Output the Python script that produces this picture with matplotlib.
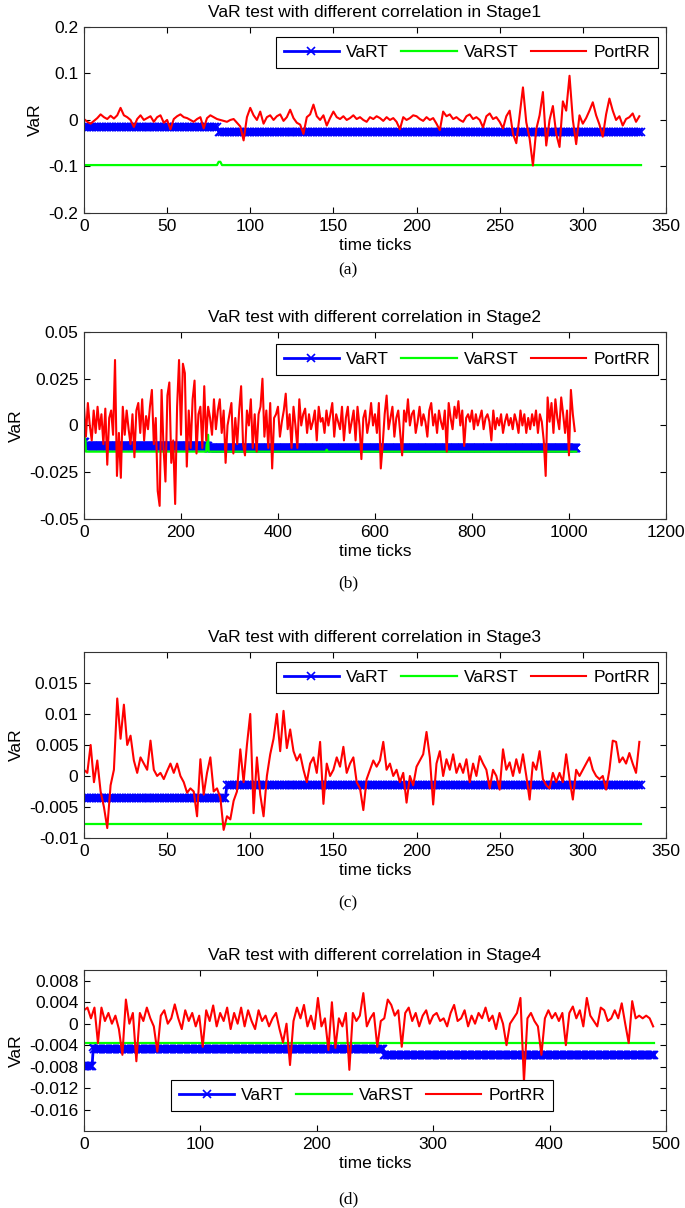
import numpy as np
import matplotlib
matplotlib.use('Agg')
import matplotlib.pyplot as plt

plt.rcParams['font.family'] = ['Liberation Sans', 'DejaVu Sans']
plt.rcParams['axes.unicode_minus'] = False

# ---------------- data ----------------
# Stage 1
n_1 = 336
vart_1_starts = [0, 81]
vart_1_levels = [-0.016, -0.025]
varst_1_starts = [0, 81, 83]
varst_1_levels = [-0.097, -0.090, -0.097]
portrr_1_step = 2
portrr_1 = [2, -4, -8, -2, 4, 12, 6, 2, 9, 3,
            10, 26, 10, 6, 0, -15, 2, 10, 0, 4,
            8, -4, 6, 10, -6, 0, -20, 2, 8, 12,
            6, 4, 0, -4, 2, 6, -18, 4, 10, 6,
            2, 0, -2, -4, 0, 2, -6, -14, -44, 6,
            26, 10, 0, 18, -8, 6, 10, 0, 8, 12,
            -2, 6, 22, 4, -6, -10, -30, 6, 12, 33,
            8, 0, 10, -12, 4, 18, 6, 2, 8, 0,
            4, 10, 2, 6, 0, -4, 6, 2, 8, 4,
            -2, 6, 0, 4, -4, -20, 6, 0, 4, 10,
            8, 2, -2, 6, 0, 4, -8, -22, 18, 8,
            12, 2, 6, 0, -4, 8, 12, 2, 6, 0,
            -16, 8, 14, 2, 6, -4, -18, 8, 20, -30,
            -50, 10, 70, -5, -40, -98, -20, 10, 60, -55,
            0, 30, -30, -58, 40, 20, 95, 0, -52, 10,
            -8, 4, 20, 38, 10, -10, -36, 12, 46, 20,
            0, 8, -12, 2, 6, 14, -4, 8]  # x 0.001

# Stage 2
n_2 = 1016
vart_2_starts = [0, 3, 256]
vart_2_levels = [-0.009, -0.011, -0.012]
varst_2_starts = [0, 2, 4, 253, 255, 257, 500, 502]
varst_2_levels = [-0.002, -0.008, -0.014, -0.010, -0.005, -0.014, -0.013, -0.014]
portrr_2_step = 4
portrr_2 = [10, -6, 12, 0, -8, 8, -4, 10, -2, 6,
            -10, 9, -21, 4, 8, -5, 35, -27, -4, -28,
            10, -5, 8, -2, -10, 6, -17, 8, 12, -4,
            14, -8, 5, -2, 10, 19, -10, 4, -35, -43,
            19, -12, -30, 16, 23, -20, -8, -42, 10, 35,
            -5, 33, 28, -22, 8, -12, 14, 24, -15, 6,
            10, -12, 21, -8, 10, 4, -5, 14, -2, 8,
            14, -4, 8, -20, 0, 6, 12, -15, 4, -10,
            8, 21, -10, -16, 8, 0, 14, -12, 6, -14,
            6, 10, 25, -6, 8, -12, 12, -23, 4, 6,
            10, -6, 2, 8, 17, -2, 6, -12, 10, 0,
            -12, 14, 0, 6, 9, -4, 6, -2, 2, 8,
            -8, 10, 2, 4, -4, 8, 0, 6, 12, -6,
            6, 2, -2, 10, -8, 4, 10, -4, 2, 8,
            -8, 10, 0, -18, 4, 8, -4, 2, 12, 0,
            6, -4, 12, -23, -10, 6, 16, -2, 4, 10,
            -6, 4, 8, -4, -16, 8, 2, 14, 0, 6,
            8, -4, 2, 10, 0, 6, 2, -6, 8, 12,
            0, 6, -4, 8, 2, -2, 8, -14, 12, 4,
            -2, 10, 4, 13, 0, 8, -11, 4, 6, 2,
            8, -2, 6, 0, 4, 8, -2, 4, 6, 2,
            -8, 8, -2, 4, 0, 6, -4, 2, 6, 0,
            4, -2, 6, 2, -4, 8, 0, 6, -4, 4,
            -2, 6, 0, 8, -4, 6, 2, -8, -27, 15,
            2, 12, -4, 14, 4, -2, 15, 6, -4, 8,
            -16, 19, 6, -3]  # x 0.001

# Stage 3
n_3 = 336
vart_3_starts = [0, 86]
vart_3_levels = [-0.0035, -0.0015]
varst_3_starts = [0]
varst_3_levels = [-0.0078]
portrr_3_step = 2
portrr_3 = [1.0, 0.5, 5.0, -1.0, 2.5, -2.5, -5.0, -8.4, -1.5, 1.0,
            12.5, 6.0, 11.5, 5.0, 6.5, 2.5, 0.5, 3.0, 2.0, 1.0,
            5.7, 1.0, 0.0, 0.5, -0.5, 0.8, 2.0, 0.5, 2.0, 0.0,
            -1.0, -2.7, -2.0, -2.5, -6.5, 2.7, -3.0, 0.5, 3.0, -2.5,
            -2.0, -3.5, -8.7, -6.5, -7.0, -4.0, -2.5, 4.3, -1.0, 5.0,
            10.0, -6.0, 3.0, -3.0, -6.5, 0.0, 3.5, 6.0, 10.0, 4.0,
            10.5, 4.5, 7.5, 4.0, 2.5, 3.5, 1.0, -1.0, 2.0, 3.0,
            0.5, 5.5, -4.5, 2.0, 0.0, 1.0, 3.0, 1.5, 4.7, 0.5,
            2.0, 3.0, -1.0, -2.0, -5.5, -0.5, 1.0, 2.5, 1.5, 2.5,
            5.5, 1.0, 2.0, 0.0, 1.0, -1.0, 0.5, -4.3, 0.0, -1.5,
            1.5, 2.5, 3.5, 7.1, 3.0, -4.6, 2.0, 4.0, 0.0, 2.7,
            1.0, 3.5, 0.5, 2.0, 0.5, 2.7, -1.0, 2.0, 0.0, 3.2,
            2.0, 1.0, -2.0, 1.0, 0.0, -2.2, 4.3, 1.0, 2.2, 0.0,
            2.7, 0.5, 3.5, 0.0, -3.8, 2.2, 1.0, 4.0, -0.5, -1.5,
            -2.0, 0.5, -1.0, 0.5, -1.0, 3.5, -0.5, -3.8, 1.0, 0.0,
            1.0, 2.0, 3.0, 1.0, 0.0, -0.5, 0.0, -2.2, 1.0, 5.7,
            5.5, 2.2, 3.0, 2.0, 3.7, 2.0, 0.5, 5.5]  # x 0.001

# Stage 4
n_4 = 491
vart_4_starts = [0, 8, 9, 258]
vart_4_levels = [-0.0078, -0.0044, -0.0048, -0.0059]
varst_4_starts = [0]
varst_4_levels = [-0.0036]
portrr_4_step = 3
portrr_4 = [2.5, 3.0, 1.0, 3.0, -3.6, 3.0, 0.5, 2.0, 0.0, 1.5,
            -1.0, -5.8, 4.5, 0.0, 2.0, -7.0, 2.0, 0.5, 3.0, 1.0,
            -0.5, -5.2, 1.5, 2.5, 0.0, 1.0, 3.6, 1.0, -1.0, 2.5,
            0.5, 2.0, -0.5, 1.5, -4.3, 2.5, 0.5, 3.4, -0.5, 2.0,
            0.5, 3.0, -1.0, 2.0, 0.0, 3.0, -0.5, 2.5, 0.5, -1.0,
            2.5, 0.5, 1.5, -0.5, 1.0, 2.0, -1.0, -3.5, 0.0, -7.7,
            0.5, 3.0, 1.0, 3.5, -0.5, 1.5, -1.0, 4.8, -0.5, 1.0,
            -4.9, 4.0, -4.5, 1.0, -0.5, 2.0, -8.6, 2.0, 0.5, 1.5,
            5.7, -0.5, 1.0, 2.0, -4.3, 0.5, 1.0, 4.5, 3.5, 1.5,
            2.5, -4.3, 2.0, 3.0, 0.5, 2.0, -0.5, 1.5, 2.5, 0.0,
            1.5, 2.0, 0.5, 1.0, -0.5, 2.0, 3.5, 0.5, 1.0, 2.5,
            -0.5, 1.5, 0.0, 2.0, 1.0, 3.0, 0.5, 1.5, -1.0, 2.0,
            0.0, -4.0, 0.0, 1.0, 2.0, 4.8, -10.8, 1.0, 2.0, 0.5,
            -0.5, -5.8, 1.0, 2.5, 1.0, 2.0, 0.5, 2.0, -4.0, 2.0,
            3.2, 1.0, 2.5, -0.5, 4.8, 1.5, 0.5, -0.5, 3.0, 2.5,
            0.5, 1.0, 2.5, 1.0, 3.8, 0.0, -3.6, 4.2, 1.0, 1.5,
            1.0, 1.5, 1.0, -0.5]  # x 0.001

titles = ['VaR test with different correlation in Stage1',
          'VaR test with different correlation in Stage2',
          'VaR test with different correlation in Stage3',
          'VaR test with different correlation in Stage4']
captions = ['(a)', '(b)', '(c)', '(d)']
xticks_all = [[0, 50, 100, 150, 200, 250, 300, 350],
              [0, 200, 400, 600, 800, 1000, 1200],
              [0, 50, 100, 150, 200, 250, 300, 350],
              [0, 100, 200, 300, 400, 500]]
yticks_all = [[-0.2, -0.1, 0, 0.1, 0.2],
              [-0.05, -0.025, 0, 0.025, 0.05],
              [-0.01, -0.005, 0, 0.005, 0.01, 0.015],
              [-0.016, -0.012, -0.008, -0.004, 0, 0.004, 0.008]]
ytick_labels_all = [['-0.2', '-0.1', '0', '0.1', '0.2'],
                    ['-0.05', '-0.025', '0', '0.025', '0.05'],
                    ['-0.01', '-0.005', '0', '0.005', '0.01', '0.015'],
                    ['-0.016', '-0.012', '-0.008', '-0.004', '0', '0.004', '0.008']]
ylims = [(-0.2, 0.2), (-0.05, 0.05), (-0.01, 0.02), (-0.02, 0.01)]


def steps(n, starts, levels):
    out = np.empty(n)
    for i, s in enumerate(starts):
        out[s:] = levels[i]
    return out


panels = [
    (n_1, vart_1_starts, vart_1_levels, varst_1_starts, varst_1_levels, portrr_1, portrr_1_step),
    (n_2, vart_2_starts, vart_2_levels, varst_2_starts, varst_2_levels, portrr_2, portrr_2_step),
    (n_3, vart_3_starts, vart_3_levels, varst_3_starts, varst_3_levels, portrr_3, portrr_3_step),
    (n_4, vart_4_starts, vart_4_levels, varst_4_starts, varst_4_levels, portrr_4, portrr_4_step),
]

# axes boxes in figure fractions [left, bottom, width, height]
boxes = [[0.1226, 0.8237, 0.8496, 0.1540],
         [0.1226, 0.5704, 0.8496, 0.1548],
         [0.1226, 0.3063, 0.8496, 0.1540],
         [0.1226, 0.0637, 0.8496, 0.1333]]
caption_y = [0.7760, 0.5170, 0.2520, 0.0070]
legend_anchor = [('upper right', (0.986, 0.946)),
                 ('upper right', (0.986, 0.935)),
                 ('upper right', (0.986, 0.946)),
                 ('upper left', (0.1495, 0.317))]

fig = plt.figure(figsize=(6.85, 12.08), dpi=100)

for k, (n, vs, vl, gs, gl, pr, st) in enumerate(panels):
    ax = fig.add_axes(boxes[k])
    t = np.arange(n)
    vart = steps(n, vs, vl)
    varst = steps(n, gs, gl)
    pr = np.array(pr) / 1000.0
    tr = np.arange(len(pr)) * st

    ax.plot(t, vart, color=(0, 0, 1), lw=2, marker='x', ms=5.5, mew=1.2, label='VaRT')
    ax.plot(t, varst, color=(0, 1, 0), lw=1.6, label='VaRST')
    ax.plot(tr, pr, color=(1, 0, 0), lw=1.5, label='PortRR')

    ax.set_xlim(xticks_all[k][0], xticks_all[k][-1])
    ax.set_ylim(*ylims[k])
    ax.set_xticks(xticks_all[k])
    ax.set_xticklabels([str(v) for v in xticks_all[k]])
    ax.set_yticks(yticks_all[k])
    ax.set_yticklabels(ytick_labels_all[k])
    ax.tick_params(direction='in', top=True, right=True, length=4, width=0.8,
                   labelsize=12.5, pad=4)
    for sp in ax.spines.values():
        sp.set_linewidth(0.8)
        sp.set_color('#333333')

    ax.set_title(titles[k], fontsize=12.5, pad=7)
    ax.set_xlabel('time ticks', fontsize=12.5, labelpad=3)
    ax.set_ylabel('VaR', fontsize=12.5, labelpad=4)

    loc, anchor = legend_anchor[k]
    leg = ax.legend(loc=loc, bbox_to_anchor=anchor, ncol=3, frameon=True, fancybox=False,
                    edgecolor='black', framealpha=1, handlelength=3.2, handletextpad=0.4,
                    columnspacing=0.7, borderpad=0.45, borderaxespad=0, numpoints=1,
                    fontsize=12.5)
    leg.get_frame().set_linewidth(0.8)

    fig.text(0.508, caption_y[k], captions[k], ha='center', va='center',
             fontsize=12.5, family=['Liberation Serif', 'DejaVu Serif'])

fig.savefig('out.png', dpi=100)
